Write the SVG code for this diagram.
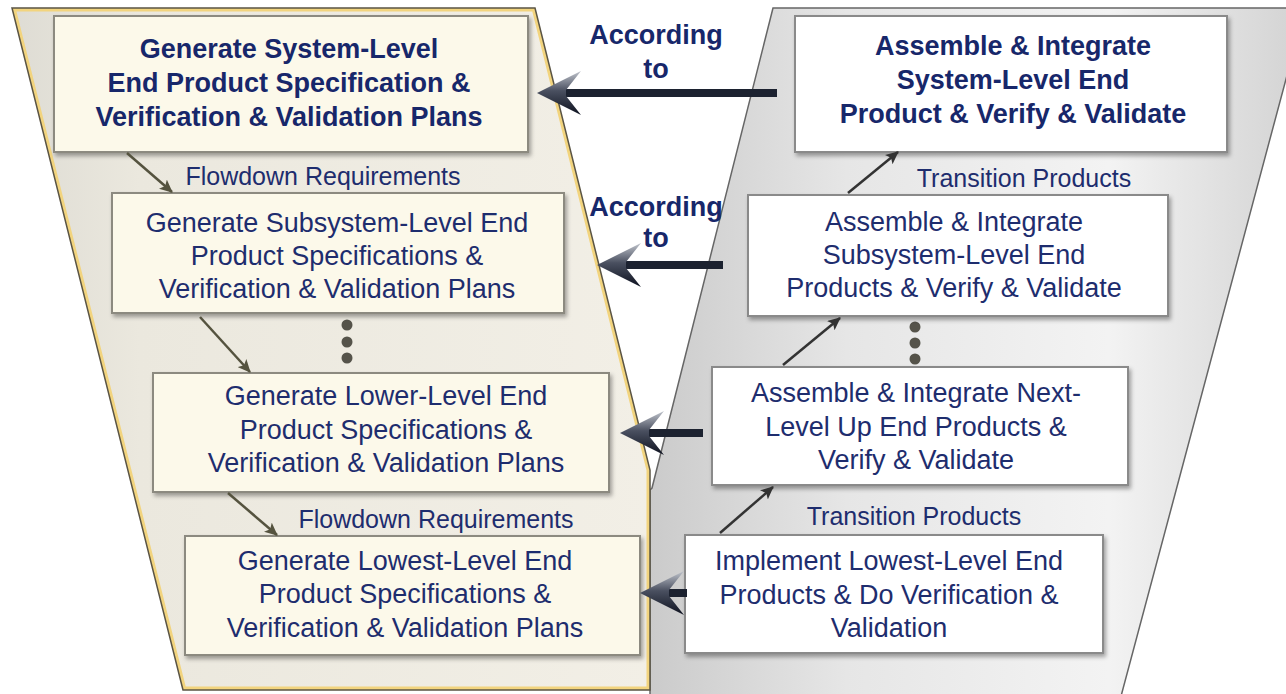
<svg xmlns="http://www.w3.org/2000/svg" width="1286" height="694" viewBox="0 0 1286 694">
<defs>
<linearGradient id="gLeft" x1="0" y1="0" x2="1" y2="0">
<stop offset="0" stop-color="#dedcd4"/>
<stop offset="0.2" stop-color="#ebe8de"/>
<stop offset="1" stop-color="#f2efe6"/>
</linearGradient>
<linearGradient id="gRight" x1="0" y1="0" x2="1" y2="0">
<stop offset="0" stop-color="#cbcbcb"/>
<stop offset="0.3" stop-color="#e6e6e6"/>
<stop offset="0.7" stop-color="#f3f3f3"/>
<stop offset="1" stop-color="#d2d2d2"/>
</linearGradient>
<linearGradient id="gHead" x1="0" y1="0" x2="0" y2="1">
<stop offset="0" stop-color="#c0c4cc"/>
<stop offset="0.45" stop-color="#4a5060"/>
<stop offset="1" stop-color="#0e1220"/>
</linearGradient>
<clipPath id="cpLeft"><path d="M12,8 L535,8 L650,470 L650,690 L183,690 Z"/></clipPath>
<filter id="sh" x="-5%" y="-5%" width="115%" height="125%">
<feDropShadow dx="2" dy="3" stdDeviation="2" flood-color="#000" flood-opacity="0.35"/>
</filter>
<marker id="mL" markerWidth="14" markerHeight="12" refX="12" refY="6" orient="auto" markerUnits="userSpaceOnUse"><path d="M0,0 L13,6 L0,12 L3,6 z" fill="#55533f"/></marker>
<marker id="mR" markerWidth="14" markerHeight="12" refX="12" refY="6" orient="auto" markerUnits="userSpaceOnUse"><path d="M0,0 L13,6 L0,12 L3,6 z" fill="#333333"/></marker>
<path id="head" d="M0,0 L44,-22 L29,-3 L29,3 L44,22 Z"/>
</defs>
<style>
.bl{fill:#fcf9ea;stroke:#8c8a80;stroke-width:2;filter:url(#sh)}
.br{fill:#ffffff;stroke:#8a8a8a;stroke-width:2;filter:url(#sh)}
.t{font-family:"Liberation Sans",Arial,sans-serif;font-size:27px;fill:#1e2d6e;text-anchor:middle}
.b{font-weight:bold;fill:#17276a}
.lab{font-size:25px}
.thinL{stroke:#55533f;stroke-width:2.5;fill:none;marker-end:url(#mL)}
.thinR{stroke:#333333;stroke-width:2.5;fill:none;marker-end:url(#mR)}
.shaft{fill:#1c2230}
.dot{fill:#55534a}
</style>
<rect width="1286" height="694" fill="#ffffff"/>
<g id="background">
<path d="M773,8 L1305,8 L1120,700 L650,700 L650,490 L652,488 Z" fill="url(#gRight)" stroke="#666666" stroke-width="1.5"/>
<path d="M12,8 L535,8 L650,470 L650,690 L183,690 Z" fill="url(#gLeft)"/>
<path d="M12,8 L535,8 L650,470 L650,690 L183,690 Z" fill="none" stroke="#f2d47e" stroke-width="7" clip-path="url(#cpLeft)"/>
<path d="M12,8 L535,8 L650,470 L650,690 L183,690 Z" fill="none" stroke="#5a5444" stroke-width="1.5"/>
</g>
<g id="dots">
<circle class="dot" cx="347" cy="325" r="5.5"/>
<circle class="dot" cx="347" cy="342" r="5.5"/>
<circle class="dot" cx="347" cy="358" r="5.5"/>
<circle class="dot" cx="915" cy="327" r="5.5"/>
<circle class="dot" cx="915" cy="343" r="5.5"/>
<circle class="dot" cx="915" cy="359" r="5.5"/>
</g>
<g id="n-sys-spec">
<rect class="bl" x="54" y="16" width="474" height="136"/>
<text class="t b" x="289" y="58">Generate System-Level</text>
<text class="t b" x="289" y="92">End Product Specification &amp;</text>
<text class="t b" x="289" y="126">Verification &amp; Validation Plans</text>
</g>
<g id="n-sub-spec">
<rect class="bl" x="112" y="193" width="452" height="120"/>
<text class="t" x="337" y="232">Generate Subsystem-Level End</text>
<text class="t" x="337" y="265">Product Specifications &amp;</text>
<text class="t" x="337" y="298">Verification &amp; Validation Plans</text>
</g>
<g id="n-lower-spec">
<rect class="bl" x="153" y="373" width="456" height="119"/>
<text class="t" x="386" y="405">Generate Lower-Level End</text>
<text class="t" x="386" y="439">Product Specifications &amp;</text>
<text class="t" x="386" y="472">Verification &amp; Validation Plans</text>
</g>
<g id="n-lowest-spec">
<rect class="bl" x="185" y="536" width="455" height="119"/>
<text class="t" x="405" y="570">Generate Lowest-Level End</text>
<text class="t" x="405" y="603">Product Specifications &amp;</text>
<text class="t" x="405" y="637">Verification &amp; Validation Plans</text>
</g>
<g id="n-sys-int">
<rect class="br" x="795" y="16" width="432" height="136"/>
<text class="t b" x="1013" y="55">Assemble &amp; Integrate</text>
<text class="t b" x="1013" y="89">System-Level End</text>
<text class="t b" x="1013" y="123">Product &amp; Verify &amp; Validate</text>
</g>
<g id="n-sub-int">
<rect class="br" x="748" y="195" width="420" height="121"/>
<text class="t" x="954" y="231">Assemble &amp; Integrate</text>
<text class="t" x="954" y="264">Subsystem-Level End</text>
<text class="t" x="954" y="297">Products &amp; Verify &amp; Validate</text>
</g>
<g id="n-next-int">
<rect class="br" x="712" y="367" width="416" height="118"/>
<text class="t" x="916" y="402">Assemble &amp; Integrate Next-</text>
<text class="t" x="916" y="436">Level Up End Products &amp;</text>
<text class="t" x="916" y="469">Verify &amp; Validate</text>
</g>
<g id="n-lowest-impl">
<rect class="br" x="685" y="535" width="418" height="118"/>
<text class="t" x="889" y="570">Implement Lowest-Level End</text>
<text class="t" x="889" y="604">Products &amp; Do Verification &amp;</text>
<text class="t" x="889" y="637">Validation</text>
</g>
<g id="connectors">
<line class="thinL" x1="127" y1="153" x2="172" y2="192"/>
<line class="thinL" x1="200" y1="317" x2="250" y2="372"/>
<line class="thinL" x1="228" y1="493" x2="277" y2="535"/>
<line class="thinR" x1="848" y1="193" x2="898" y2="152"/>
<line class="thinR" x1="783" y1="365" x2="840" y2="318"/>
<line class="thinR" x1="720" y1="533" x2="773" y2="487"/>
<rect class="shaft" x="565" y="89" width="212" height="8"/>
<use href="#head" transform="translate(537,93)" fill="url(#gHead)"/>
<rect class="shaft" x="625" y="261" width="98" height="8"/>
<use href="#head" transform="translate(597,265)" fill="url(#gHead)"/>
<rect class="shaft" x="648" y="429" width="55" height="8"/>
<use href="#head" transform="translate(620,433)" fill="url(#gHead)"/>
<rect class="shaft" x="668" y="589" width="19" height="8"/>
<use href="#head" transform="translate(640,593)" fill="url(#gHead)"/>
</g>
<g id="labels">
<text class="t lab" x="323" y="185">Flowdown Requirements</text>
<text class="t lab" x="436" y="528">Flowdown Requirements</text>
<text class="t lab" x="1024" y="187">Transition Products</text>
<text class="t lab" x="914" y="525">Transition Products</text>
<text class="t b" x="656" y="44">According</text>
<text class="t b" x="656" y="78">to</text>
<text class="t b" x="656" y="216">According</text>
<text class="t b" x="656" y="247">to</text>
</g>
</svg>
